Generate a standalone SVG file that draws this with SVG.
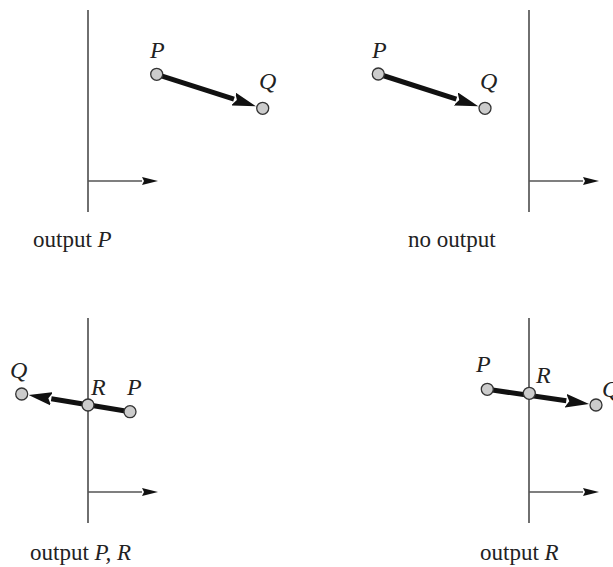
<svg xmlns="http://www.w3.org/2000/svg" width="613" height="567" viewBox="0 0 613 567">
<style>
.wall{stroke:#333;stroke-width:1.4;fill:none}
.dir{stroke:#555;stroke-width:1.4;fill:none}
.seg{stroke:#111;stroke-width:5;fill:none;stroke-linecap:butt}
.pt{fill:#ccc;stroke:#333;stroke-width:1.3}
.lab{font-family:"Liberation Serif",serif;font-size:24px;font-style:italic;fill:#222}
.cap{font-family:"Liberation Serif",serif;font-size:23px;fill:#222}
.cap tspan{font-style:italic}
</style>
<defs>
<marker id="big" viewBox="0 0 23 14" refX="0" refY="7" markerWidth="23" markerHeight="14" markerUnits="userSpaceOnUse" orient="auto"><path d="M-1,0 L23,7 L-1,14 L3,7 z" fill="#111"/></marker>
<marker id="small" viewBox="0 0 16 8" refX="0" refY="4" markerWidth="16" markerHeight="8" markerUnits="userSpaceOnUse" orient="auto"><path d="M0,0 L16,4 L0,8 L2,4 z" fill="#111"/></marker>
</defs>
<g id="connectors">
<line class="wall" x1="88" y1="10" x2="88" y2="212"/>
<line class="dir" x1="88" y1="181" x2="142" y2="181" marker-end="url(#small)"/>
<line class="wall" x1="529" y1="10" x2="529" y2="212"/>
<line class="dir" x1="529" y1="181" x2="583" y2="181" marker-end="url(#small)"/>
<line class="wall" x1="88" y1="318" x2="88" y2="523"/>
<line class="dir" x1="88" y1="492" x2="142" y2="492" marker-end="url(#small)"/>
<line class="wall" x1="529" y1="318" x2="529" y2="523"/>
<line class="dir" x1="529" y1="492" x2="583" y2="492" marker-end="url(#small)"/>
<line class="seg" x1="156.7" y1="74.3" x2="234" y2="99.2" marker-end="url(#big)"/>
<line class="seg" x1="378.3" y1="74" x2="456.4" y2="99.2" marker-end="url(#big)"/>
<line class="seg" x1="130" y1="411.7" x2="51.3" y2="398.8" marker-end="url(#big)"/>
<line class="seg" x1="487.3" y1="389.3" x2="566.3" y2="400.8" marker-end="url(#big)"/>
</g>
<g id="panel1">
<circle id="p1P" class="pt" cx="156.7" cy="74.3" r="6"/>
<circle id="p1Q" class="pt" cx="262.7" cy="108.3" r="6"/>
<text class="lab" x="150" y="58">P</text>
<text class="lab" x="259" y="89">Q</text>
<text class="cap" x="33" y="247">output <tspan>P</tspan></text>
</g>
<g id="panel2">
<circle id="p2P" class="pt" cx="378.3" cy="74" r="6"/>
<circle id="p2Q" class="pt" cx="485" cy="108.3" r="6"/>
<text class="lab" x="372" y="58">P</text>
<text class="lab" x="480" y="89">Q</text>
<text class="cap" x="408" y="247">no output</text>
</g>
<g id="panel3">
<circle id="p3Q" class="pt" cx="21.7" cy="394" r="6"/>
<circle id="p3R" class="pt" cx="88" cy="405" r="6"/>
<circle id="p3P" class="pt" cx="130" cy="411.7" r="6"/>
<text class="lab" x="10" y="378">Q</text>
<text class="lab" x="91" y="395">R</text>
<text class="lab" x="127" y="395">P</text>
<text class="cap" x="30" y="560">output <tspan>P, R</tspan></text>
</g>
<g id="panel4">
<circle id="p4P" class="pt" cx="487.3" cy="389.3" r="6"/>
<circle id="p4R" class="pt" cx="529.3" cy="393.3" r="6"/>
<circle id="p4Q" class="pt" cx="596" cy="405" r="6"/>
<text class="lab" x="476" y="372">P</text>
<text class="lab" x="536" y="383">R</text>
<text class="lab" x="602" y="397">Q</text>
<text class="cap" x="480" y="560">output <tspan>R</tspan></text>
</g>
</svg>
